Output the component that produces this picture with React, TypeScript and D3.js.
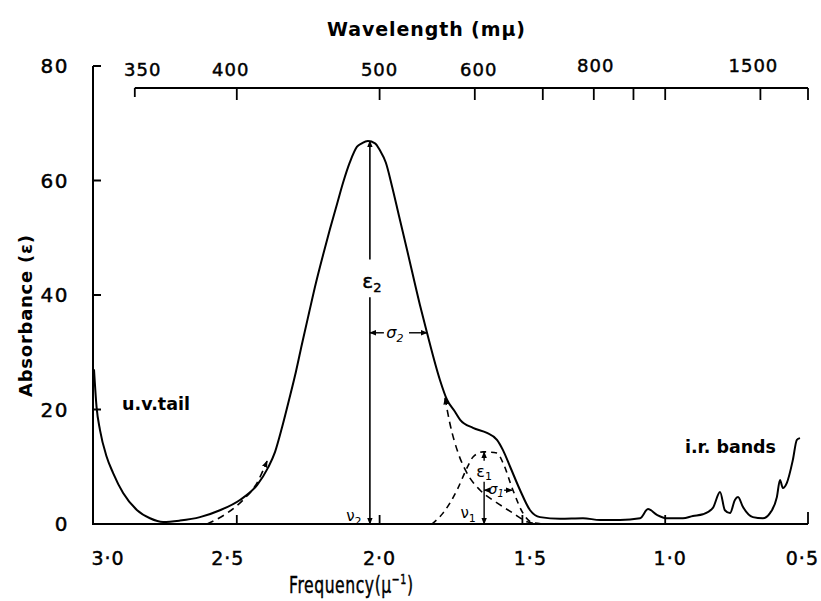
import React from 'react';
import * as d3 from 'd3';

// Main absorption curve: frequency (μ^-1) and absorbance (ε)
const freq = [3.0, 2.991, 2.979, 2.956, 2.933, 2.898, 2.849, 2.804, 2.758, 2.699, 2.629, 2.559, 2.489, 2.429, 2.391, 2.366, 2.342, 2.317, 2.293, 2.272, 2.247, 2.223, 2.198, 2.174, 2.149, 2.128, 2.104, 2.079, 2.062, 2.041, 2.016, 1.999, 1.978, 1.957, 1.932, 1.904, 1.859, 1.834, 1.789, 1.764, 1.736, 1.718, 1.673, 1.624, 1.589, 1.568, 1.543, 1.508, 1.473, 1.438, 1.368, 1.288, 1.228, 1.158, 1.088, 1.06, 1.029, 0.994, 0.938, 0.903, 0.868, 0.833, 0.808, 0.791, 0.773, 0.756, 0.745, 0.728, 0.693, 0.658, 0.633, 0.609, 0.598, 0.588, 0.574, 0.553, 0.539, 0.528];
const absorb = [27.0, 20.4, 16.4, 11.8, 8.9, 5.4, 2.4, 1.0, 0.35, 0.6, 1.2, 2.4, 4.2, 6.8, 9.8, 12.6, 16.8, 21.7, 26.6, 31.4, 36.9, 42.1, 47.0, 51.5, 55.9, 59.6, 63.2, 65.9, 66.5, 66.9, 66.5, 65.3, 63.1, 59.1, 53.8, 47.9, 38.3, 33.4, 25.2, 21.7, 19.6, 18.2, 16.8, 15.9, 14.7, 12.9, 10.0, 5.9, 2.4, 1.2, 0.9, 1.0, 0.7, 0.7, 1.0, 2.6, 1.6, 1.0, 1.0, 1.4, 1.7, 2.8, 5.6, 2.4, 1.9, 4.2, 4.7, 3.0, 1.2, 1.0, 1.9, 4.7, 7.7, 6.3, 7.2, 11.2, 14.7, 15.0];

// Resolved band 2 (dashed), low-frequency wing and high-frequency wing
const band2LowFreq = [2.604, 2.534, 2.478, 2.429, 2.394];
const band2LowEps = [0.0, 1.9, 4.2, 7.2, 11.0];
const band2HighFreq = [1.771, 1.754, 1.725, 1.694, 1.648, 1.589, 1.533, 1.484, 1.438];
const band2HighEps = [22.0, 17.6, 12.4, 8.9, 5.9, 3.7, 1.9, 0.4, 0.0];

// Resolved band 1 (dashed)
const band1Freq = [1.817, 1.778, 1.729, 1.694, 1.673, 1.638, 1.589, 1.568, 1.533, 1.498, 1.463, 1.414];
const band1Eps = [0.0, 1.9, 5.9, 9.8, 11.7, 12.6, 12.4, 10.7, 5.9, 1.9, 0.2, 0.0];

// Band parameters for annotations
const nu2 = 2.034, eps2 = 66.9, sigma2End = 1.834, sigma2Eps = 33.4;
const nu1 = 1.634, eps1 = 12.6, sigma1End = 1.536, sigma1Eps = 5.9;

// Axes
const xTicks = [3.0, 2.5, 2.0, 1.5, 1.0, 0.5];
const xTickLabels = ['3·0', '2·5', '2·0', '1·5', '1·0', '0·5'];
const yTicks = [0, 20, 40, 60, 80];
const wlTicks = [350, 400, 500, 600, 700, 800, 900, 1000, 1500, 2000];
const wlLabels = [350, 400, 500, 600, 800, 1500];

const FONT = '"DejaVu Sans", sans-serif';

export default function App() {
  const x = d3.scaleLinear().domain([3.0, 0.5]).range([94, 808]);
  const y = d3.scaleLinear().domain([0, 80]).range([524, 66]);
  const xw = (w: number) => x(1000 / w);
  const line = d3
    .line<[number, number]>()
    .x((d) => x(d[0]))
    .y((d) => y(d[1]))
    .curve(d3.curveMonotoneX);
  const zip = (a: number[], b: number[]) => a.map((v, i) => [v, b[i]] as [number, number]);

  const x0 = x(3.0), x1 = x(0.5), yb = y(0), yt = y(80);
  const topY = 88;
  const thick = { stroke: '#000', strokeWidth: 0.45 };
  const xLabelShift = [14, -9, 0, 8, 5, 11];
  const wlLabelShift: Record<number, number> = { 350: 8, 400: -6, 500: 0, 600: 4, 800: 2, 1500: -7 };

  return (
    <svg width={821} height={601} style={{ position: 'absolute', left: 0, top: 0, background: '#fff' }} fontFamily={FONT}>
      <defs>
        <marker id="ah" viewBox="0 0 10 10" refX="9" refY="5" markerWidth="7" markerHeight="7" markerUnits="userSpaceOnUse" orient="auto-start-reverse">
          <path d="M0,1 L10,5 L0,9 z" fill="#000" />
        </marker>
      </defs>
      <rect x={0} y={0} width={821} height={601} fill="#fff" />

      {/* Left axis */}
      <line x1={x0 - 1} y1={yt} x2={x0 - 1} y2={yb} stroke="#000" strokeWidth={2} />
      {yTicks.filter((t) => t > 0).map((t) => (
        <line key={'yt' + t} x1={x0 - 1} x2={x0 + 7} y1={y(t)} y2={y(t)} stroke="#000" strokeWidth={2} />
      ))}
      {yTicks.map((t) => (
        <text key={'yl' + t} x={69} y={y(t) + 7} textAnchor="end" fontSize={20} letterSpacing={1.5} {...thick}>
          {t}
        </text>
      ))}
      <text transform={`translate(32,316) rotate(-90)`} textAnchor="middle" fontSize={18} fontWeight="bold" textLength={162} lengthAdjust="spacing">
        Absorbance (ε)
      </text>

      {/* Bottom axis */}
      <line x1={x0 - 2} y1={yb} x2={x1} y2={yb} stroke="#000" strokeWidth={2} />
      {xTicks.slice(1).map((t, i) => (
        <line key={'xt' + t} x1={x(t)} x2={x(t)} y1={yb} y2={yb - (i === xTicks.length - 2 ? 12 : 9)} stroke="#000" strokeWidth={1.8} />
      ))}
      {xTicks.map((t, i) => (
        <text key={'xl' + t} x={x(t) + xLabelShift[i]} y={565} textAnchor={i === xTicks.length - 1 ? 'end' : 'middle'} fontSize={19} letterSpacing={1} {...thick}>
          {xTickLabels[i]}
        </text>
      ))}
      <g transform="translate(289,593) scale(0.68,1)">
        <text x={0} y={0} fontSize={23} letterSpacing={0.8} {...thick}>
          Frequency(μ<tspan dy={-9} fontSize={14}>−1</tspan><tspan dy={9}>)</tspan>
        </text>
      </g>

      {/* Top wavelength axis */}
      <line x1={xw(350)} y1={topY} x2={xw(2000)} y2={topY} stroke="#000" strokeWidth={2} />
      {wlTicks.map((w) => (
        <line key={'wt' + w} x1={xw(w)} x2={xw(w)} y1={topY} y2={topY + (w === 350 ? 9 : 12)} stroke="#000" strokeWidth={1.8} />
      ))}
      {wlLabels.map((w) => (
        <text key={'wl' + w} x={xw(w) + (wlLabelShift[w] || 0)} y={w >= 800 ? 72 : 76} textAnchor="middle" fontSize={18} letterSpacing={1} {...thick}>
          {w}
        </text>
      ))}
      <text x={426} y={36} textAnchor="middle" fontSize={19} fontWeight="bold" textLength={198} lengthAdjust="spacing">
        Wavelength (mμ)
      </text>

      {/* Main spectrum */}
      <path d={line(zip(freq, absorb)) || ''} fill="none" stroke="#000" strokeWidth={2} strokeLinejoin="round" />

      {/* Resolved bands (dashed) */}
      <path d={line(zip(band2LowFreq, band2LowEps)) || ''} fill="none" stroke="#000" strokeWidth={1.6} strokeDasharray="7,5" markerEnd="url(#ah)" />
      <path d={line(zip(band2HighFreq, band2HighEps)) || ''} fill="none" stroke="#000" strokeWidth={1.6} strokeDasharray="7,5" markerStart="url(#ah)" />
      <path d={line(zip(band1Freq, band1Eps)) || ''} fill="none" stroke="#000" strokeWidth={1.6} strokeDasharray="6,5" />

      {/* Band 2 annotations */}
      <line x1={x(nu2)} x2={x(nu2)} y1={y(46.2)} y2={y(eps2)} stroke="#000" strokeWidth={1.6} markerEnd="url(#ah)" />
      <line x1={x(nu2)} x2={x(nu2)} y1={y(39.6)} y2={yb} stroke="#000" strokeWidth={1.6} markerEnd="url(#ah)" />
      <text x={x(nu2) + 2} y={y(41.2)} textAnchor="middle" fontSize={20} {...thick}>
        ε<tspan dy={4} fontSize={13}>2</tspan>
      </text>
      <line x1={x(nu2) + 14} x2={x(nu2)} y1={y(sigma2Eps)} y2={y(sigma2Eps)} stroke="#000" strokeWidth={1.4} markerEnd="url(#ah)" />
      <line x1={x(sigma2End) - 18} x2={x(sigma2End)} y1={y(sigma2Eps)} y2={y(sigma2Eps)} stroke="#000" strokeWidth={1.4} markerEnd="url(#ah)" />
      <text x={x(nu2) + 25} y={y(sigma2Eps) + 5} textAnchor="middle" fontSize={16} fontStyle="italic">
        σ<tspan dy={4} fontSize={11}>2</tspan>
      </text>
      <text x={x(nu2) - 16} y={y(0) - 3} textAnchor="middle" fontSize={15}>
        ν<tspan dy={4} fontSize={11}>2</tspan>
      </text>

      {/* Band 1 annotations */}
      <line x1={x(nu1)} x2={x(nu1)} y1={y(eps1) + 9} y2={y(eps1)} stroke="#000" strokeWidth={1.4} markerEnd="url(#ah)" />
      <line x1={x(nu1)} x2={x(nu1)} y1={y(eps1) + 30} y2={yb} stroke="#000" strokeWidth={1.4} markerEnd="url(#ah)" />
      <text x={x(nu1)} y={y(eps1) + 25} textAnchor="middle" fontSize={16}>
        ε<tspan dy={3} fontSize={11}>1</tspan>
      </text>
      <line x1={x(nu1) + 5} x2={x(nu1)} y1={y(sigma1Eps)} y2={y(sigma1Eps)} stroke="#000" strokeWidth={1.3} markerEnd="url(#ah)" />
      <line x1={x(sigma1End) - 8} x2={x(sigma1End)} y1={y(sigma1Eps)} y2={y(sigma1Eps)} stroke="#000" strokeWidth={1.3} markerEnd="url(#ah)" />
      <text x={x(nu1) + 12} y={y(sigma1Eps) + 4} textAnchor="middle" fontSize={14} fontStyle="italic">
        σ<tspan dy={3} fontSize={10}>1</tspan>
      </text>
      <text x={x(nu1) - 16} y={y(0) - 6} textAnchor="middle" fontSize={15}>
        ν<tspan dy={4} fontSize={11}>1</tspan>
      </text>

      {/* Region labels */}
      <text x={122} y={410} fontSize={17} fontWeight="bold" textLength={68} lengthAdjust="spacingAndGlyphs">u.v.tail</text>
      <text x={685} y={453} fontSize={17} fontWeight="bold" textLength={91} lengthAdjust="spacingAndGlyphs">i.r. bands</text>
    </svg>
  );
}
